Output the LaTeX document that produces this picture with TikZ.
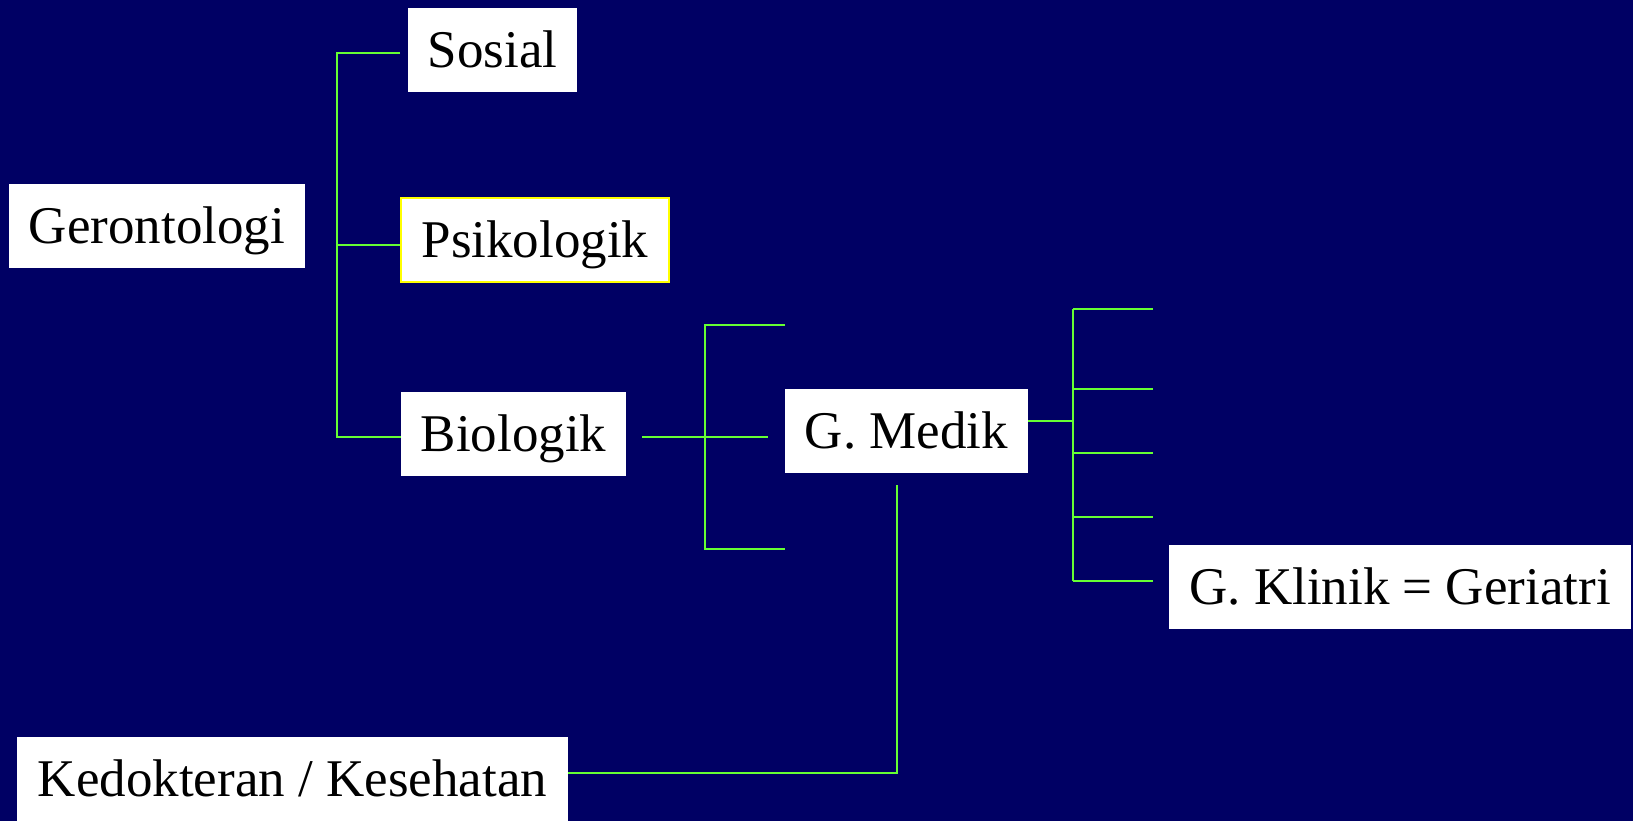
\documentclass[tikz,border=0pt]{standalone}
\usepackage{fontspec}
\setmainfont{Liberation Serif}
\definecolor{bgnavy}{RGB}{0,0,100}
\definecolor{linkgreen}{RGB}{102,255,51}
\definecolor{hiyellow}{RGB}{255,255,0}
\begin{document}
\begin{tikzpicture}[x=1pt,y=-1pt,
  box/.style={fill=white, inner sep=0pt, minimum height=84pt,
    text height=35pt, text depth=0pt,
    font=\fontsize{53}{60}\selectfont},
  link/.style={draw=linkgreen, line width=2pt}]
% canvas
\fill[bgnavy] (0,0) rectangle (1633,821);
\useasboundingbox (0,0) rectangle (1633,821);

% boxes
\node[box, minimum width=169pt] (sos) at (492.5,50) {Sosial};
\node[box, minimum width=296pt] (ger) at (157,226) {Gerontologi};
\node[box, minimum width=268pt, minimum height=84pt, draw=hiyellow, line width=2pt] (psi) at (535,240) {Psikologik};
\node[box, minimum width=225pt] (bio) at (513.5,434) {Biologik};
\node[box, minimum width=243pt] (med) at (906.5,431) {G.~Medik};
\node[box, minimum width=462pt] (kli) at (1400,586.5) {G.~Klinik = Geriatri};
\node[box, minimum width=551pt] (ked) at (292.5,779) {Kedokteran / Kesehatan};

% first level bracket
\coordinate (s1) at (400,53);
\coordinate (p1) at (400,245);
\coordinate (t1) at (337,53);
\coordinate (t2) at (337,245);
\coordinate (t3) at (337,437);
\draw[link] (s1) -- (t1) -- (t3) -- (bio.west |- t3);
\draw[link] (t2) -- (p1);

% Biologik bracket
\coordinate (b0) at (642,437);
\coordinate (b1) at (768,437);
\coordinate (bt) at (705,325);
\coordinate (bb) at (705,549);
\coordinate (bte) at (785,325);
\coordinate (bbe) at (785,549);
\draw[link] (b0) -- (b1);
\draw[link] (bte) -- (bt) -- (bb) -- (bbe);

% G. Medik bracket
\coordinate (m0) at (1073,421);
\coordinate (mt) at (1073,309);
\coordinate (mb) at (1073,581);
\draw[link] (med.east |- m0) -- (m0);
\draw[link] (mt) -- (mb);
\foreach \yy/\nm in {309/e1,389/e2,453/e3,517/e4,581/e5}{
  \coordinate (\nm) at (1153,\yy);
  \draw[link] (1073,\yy) -- (\nm);
}

% G. Medik down to Kedokteran
\coordinate (d0) at (897,485);
\coordinate (d1) at (897,773);
\draw[link] (d0) -- (d1) -- (ked.east |- d1);
\end{tikzpicture}
\end{document}
